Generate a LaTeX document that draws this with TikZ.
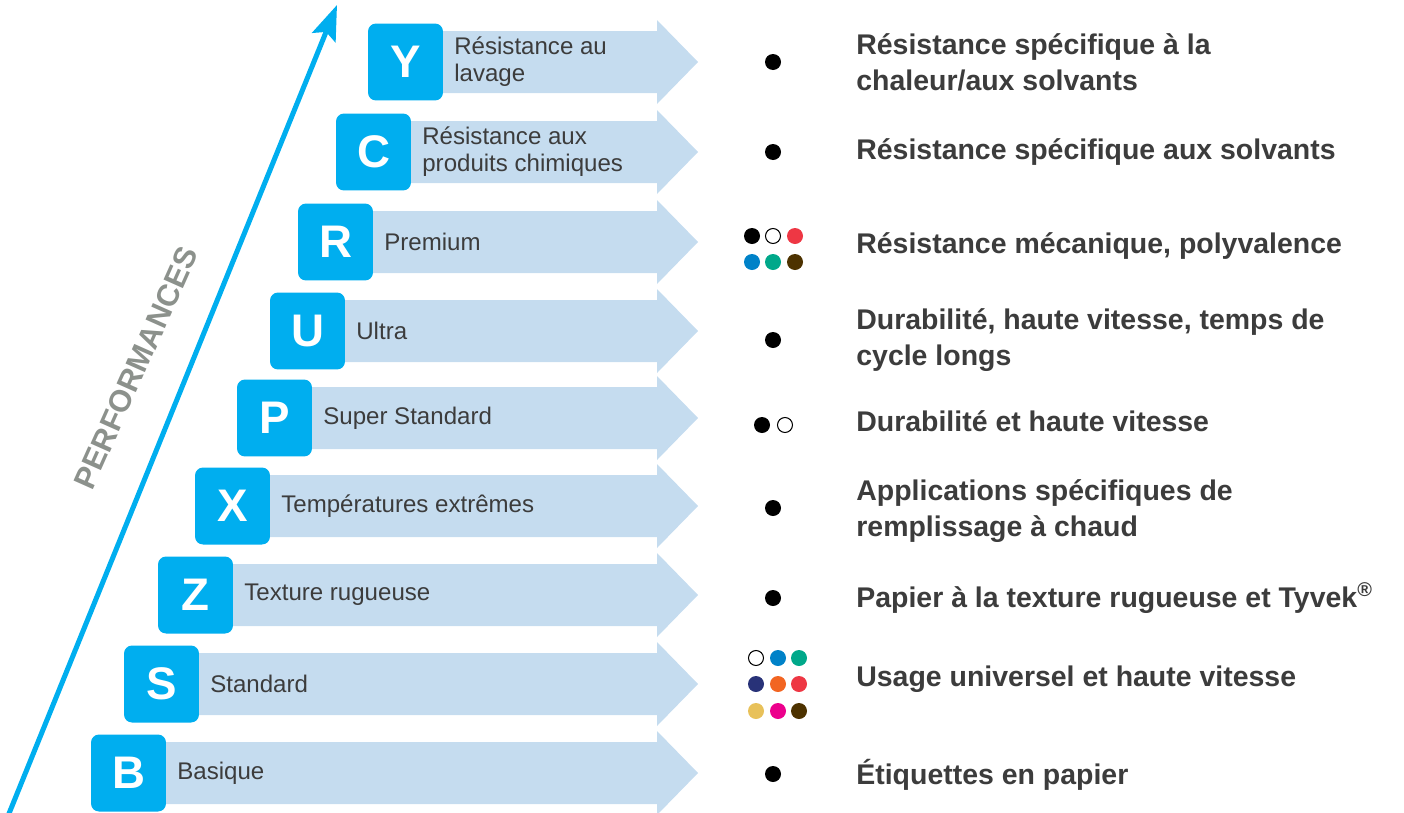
\documentclass[tikz,border=0pt]{standalone}
\usepackage{fontspec}
\setmainfont{Liberation Sans}
\usetikzlibrary{arrows.meta}

\definecolor{cyanBox}{HTML}{00AEEF}
\definecolor{bandBlue}{HTML}{C5DCEF}
\definecolor{textGray}{HTML}{3C3C3C}
\definecolor{perfGray}{HTML}{8C918C}
\definecolor{dotRed}{HTML}{EE3744}
\definecolor{dotBlue}{HTML}{0082C8}
\definecolor{dotGreen}{HTML}{00A88A}
\definecolor{dotBrown}{HTML}{4D3200}
\definecolor{dotNavy}{HTML}{283278}
\definecolor{dotOrange}{HTML}{F26522}
\definecolor{dotGold}{HTML}{E8C15A}
\definecolor{dotMagenta}{HTML}{EC008C}

\begin{document}
\begin{tikzpicture}
[x=0.02cm,y=-0.02cm,
  boxDecorate/.style={shape=rectangle,rounded corners=0.16cm,fill=cyanBox,
    text=white,minimum width=1.5cm,minimum height=1.54cm,inner sep=0pt,
    font=\fontsize{26}{26}\selectfont\bfseries},%
  bandDecorate/.style={fill=bandBlue},%
  labelDecorate/.style={anchor=west,inner sep=0pt,text=textGray,align=left,
    font=\fontsize{13.7}{15.5}\selectfont},%
  useDecorate/.style={anchor=west,inner sep=0pt,text=textGray,align=left,
    font=\fontsize{16.2}{20.5}\selectfont\bfseries},%
  dotDecorate/.style={draw=black,line width=0.6pt}]
\useasboundingbox (0,0) rectangle (1404,812);
%% performance axis
\coordinate (perfStart) at (8,816);
\coordinate (perfEnd) at (337,5);
\draw[cyanBox,line width=2.85pt,-{Stealth[length=0.7cm,width=0.5cm,inset=0.12cm]}]
  (perfStart) -- (perfEnd);
\node (perf) at (136,368) [rotate=66,text=perfGray,
  font=\fontsize{17.5}{17.5}\selectfont\bfseries] {PERFORMANCES};
%% bands, boxes and labels
\foreach \letter/\bx/\yc/\lbl in {
  Y/368/62/{Résistance au\\lavage},
  C/336/152/{Résistance aux\\produits chimiques},
  R/298/242/Premium,
  U/270/331/Ultra,
  P/237/418/Super Standard,
  X/195/506/Températures extrêmes,
  Z/158/595/Texture rugueuse,
  S/124/684/Standard,
  B/91/773/Basique}
{
  \fill[bandDecorate] (\bx+37,\yc-31) -- (657,\yc-31) -- (657,\yc-42)
    -- (698,\yc) -- (657,\yc+42) -- (657,\yc+31) -- (\bx+37,\yc+31) -- cycle;
  \node (box\letter) at (\bx+37.5,\yc) [boxDecorate] {\letter};
  \node (lbl\letter) at (\bx+86,\yc) [labelDecorate] {\lbl};
}
%% uses
\foreach \name/\yc/\txt in {
  Y/62/{Résistance spécifique à la\\chaleur/aux solvants},
  C/152/{Résistance spécifique aux solvants},
  R/246/{Résistance mécanique, polyvalence},
  U/340/{Durabilité, haute vitesse, temps de\\cycle longs},
  P/421/{Durabilité et haute vitesse},
  X/511/{Applications spécifiques de\\remplissage à chaud},
  Z/598/{Papier à la texture rugueuse et Tyvek\textsuperscript{®}},
  S/679/{Usage universel et haute vitesse},
  B/775/{Étiquettes en papier}}
{
  \node (use\name) at (856,\yc) [useDecorate] {\txt};
}
%% colour dots
\foreach \x/\y/\c in {
  773/62/black, 773/152/black, 773/340/black, 773/508/black,
  773/598/black, 773/774/black,
  752/236/black, 773/236/white, 795/236/dotRed,
  752/262/dotBlue, 773/262/dotGreen, 795/262/dotBrown,
  762/425/black, 785/425/white,
  756/658/white, 778/658/dotBlue, 799/658/dotGreen,
  756/684/dotNavy, 778/684/dotOrange, 799/684/dotRed,
  756/711/dotGold, 778/711/dotMagenta, 799/711/dotBrown}
{
  \fill[\c] (\x,\y) circle (0.16cm);
}
\foreach \x/\y in {773/236, 785/425, 756/658}
{
  \draw[dotDecorate] (\x,\y) circle (0.15cm);
}
\end{tikzpicture}
\end{document}
